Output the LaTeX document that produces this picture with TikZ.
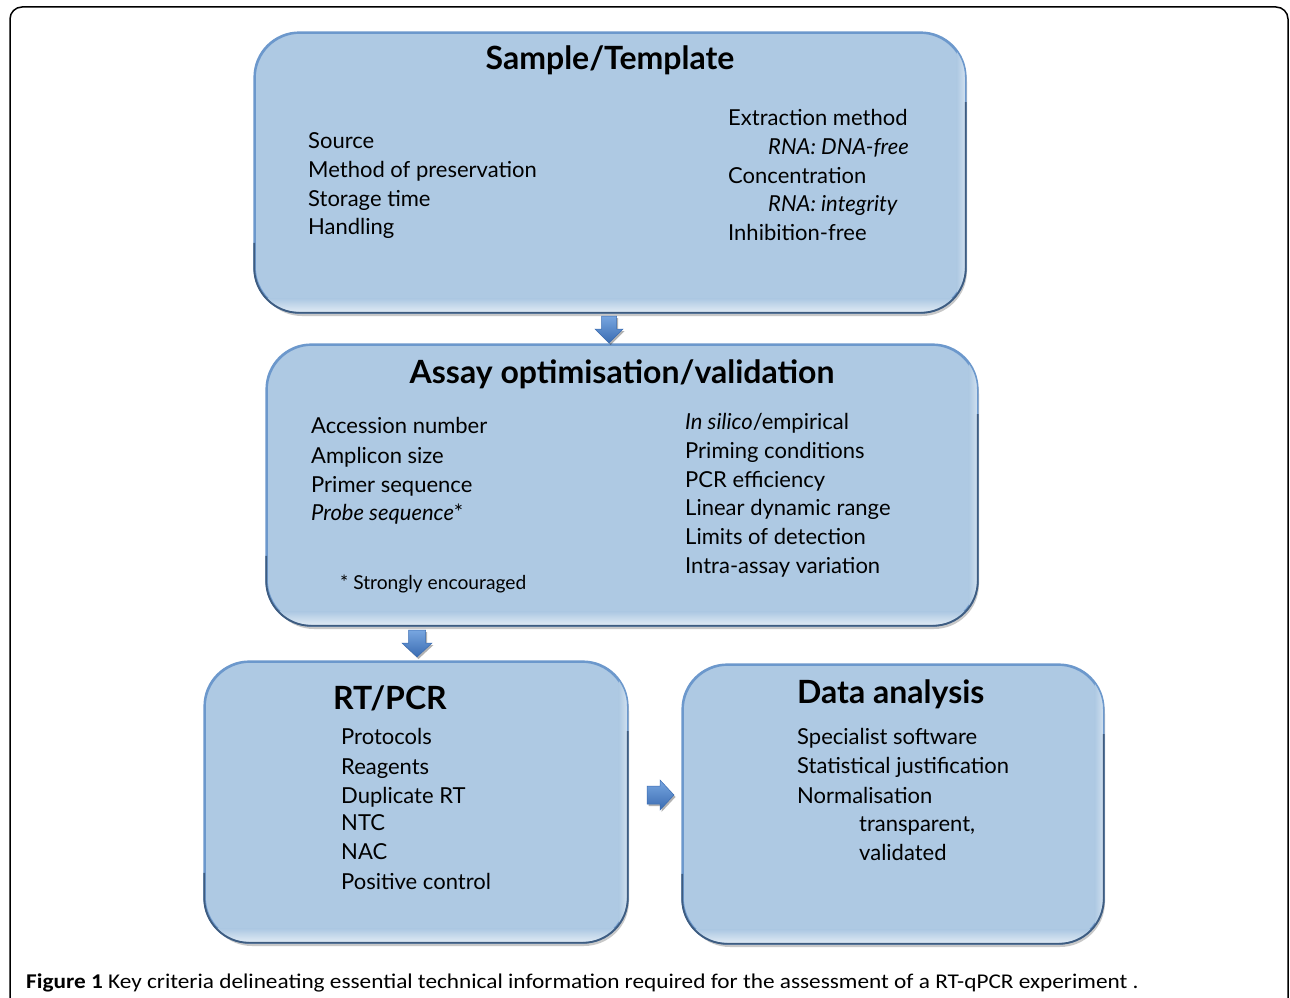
\documentclass[tikz,border=0pt]{standalone}
\usepackage{fontspec}
\setmainfont{Lato}
\newfontfamily\capfont{Carlito}
\usetikzlibrary{shadows,calc}
\definecolor{boxblue}{RGB}{174,201,227}
\definecolor{boxedge}{RGB}{108,152,204}
\definecolor{boxdark}{RGB}{62,92,128}
\definecolor{arrowlight}{RGB}{120,166,224}
\definecolor{arrowdark}{RGB}{58,108,178}
\tikzset{
  box/.style={rectangle, rounded corners=45pt, fill=boxblue, draw=boxedge, line width=1.6pt,
    inner sep=0pt,
    drop shadow={shadow xshift=2pt, shadow yshift=-4pt, opacity=0.3, fill=black!70}},
  itm/.style={anchor=base west, inner sep=0pt, font=\fontsize{22}{26}\selectfont},
  ttl/.style={anchor=base, inner sep=0pt, font=\bfseries\fontsize{32}{36}\selectfont},
  blockarrow/.style={top color=arrowlight, bottom color=arrowdark, draw=arrowdark, line width=0.5pt,
    drop shadow={shadow xshift=1.5pt, shadow yshift=-2pt, opacity=0.3, fill=black}},
  frame/.style={draw=black, line width=1.5pt, rounded corners=12pt}
}
\newcommand{\bevel}[1]{%
  \begin{scope}
    \clip[rounded corners=45pt] (#1.south west) rectangle (#1.north east);
    \shade[top color=boxblue, bottom color=white!65!boxblue]
      ($(#1.south west)+(0,-14)$) rectangle ($(#1.south east)+(0,0)$);
    \shade[left color=boxblue, right color=white!45!boxblue]
      ($(#1.north east)+(-9,0)$) rectangle (#1.south east);
  \end{scope}
  \draw[boxedge, line width=1.6pt, rounded corners=45pt] (#1.south west) rectangle (#1.north east);
  \draw[boxdark, line width=1.8pt, rounded corners=45pt]
    ($(#1.north east)+(0,70)$) -- (#1.south east) -- (#1.south west) -- ($(#1.south west)+(0,-70)$);
}
\begin{document}
\begin{tikzpicture}[x=1pt,y=-1pt]
\useasboundingbox (0,0) rectangle (1290,998);
\fill[white] (0,0) rectangle (1290,998);
\draw[frame] (10,1010) -- (10,7) -- (1288,7) -- (1288,1010);

% boxes
\node[box, minimum width=710pt, minimum height=279pt] (b1) at (610,172.5) {};
\bevel{b1}
\node[box, minimum width=710pt, minimum height=280pt] (b2) at (622,485) {};
\bevel{b2}
\node[box, minimum width=422pt, minimum height=280pt] (b3) at (416,802) {};
\bevel{b3}
\node[box, minimum width=420pt, minimum height=278pt] (b4) at (893,804) {};
\bevel{b4}

% arrows
\coordinate (a1) at (609,316);
\shade[blockarrow] ($(a1)+(-7.5,0)$) -- ($(a1)+(7.5,0)$) -- ($(a1)+(7.5,13)$) -- ($(a1)+(14,13)$)
  -- ($(a1)+(0,27)$) -- ($(a1)+(-14,13)$) -- ($(a1)+(-7.5,13)$) -- cycle;
\coordinate (a2) at (417,630);
\shade[blockarrow] ($(a2)+(-8.5,0)$) -- ($(a2)+(8.5,0)$) -- ($(a2)+(8.5,13)$) -- ($(a2)+(15,13)$)
  -- ($(a2)+(0,27)$) -- ($(a2)+(-15,13)$) -- ($(a2)+(-8.5,13)$) -- cycle;
\coordinate (a3) at (647,795);
\shade[blockarrow] ($(a3)+(0,-9)$) -- ($(a3)+(13,-9)$) -- ($(a3)+(13,-15)$) -- ($(a3)+(27,0)$)
  -- ($(a3)+(13,15)$) -- ($(a3)+(13,9)$) -- ($(a3)+(0,9)$) -- cycle;

% box 1
\node[ttl] (t1) at (610,70) {Sample/Template};
\node[itm] (s1) at (308,148) {Source};
\node[itm] (s2) at (308,177) {Method of preservation};
\node[itm] (s3) at (308,206) {Storage time};
\node[itm] (s4) at (308,234) {Handling};
\node[itm] (r1) at (728,125) {Extraction method};
\node[itm] (r2) at (768,154) {\itshape RNA: DNA-free};
\node[itm] (r3) at (728,183) {Concentration};
\node[itm] (r4) at (768,211) {\itshape RNA: integrity};
\node[itm] (r5) at (728,240) {Inhibition-free};

% box 2
\node[ttl] (t2) at (622,383) {Assay optimisation/validation};
\node[itm] (p1) at (311,433) {Accession number};
\node[itm] (p2) at (311,463) {Amplicon size};
\node[itm] (p3) at (311,492) {Primer sequence};
\node[itm] (p4) at (311,520) {\itshape Probe sequence\upshape*};
\node[itm, font=\fontsize{19.2}{23}\selectfont] (p5) at (340,589) {* Strongly encouraged};
\node[itm] (q1) at (685,429) {\itshape In silico\upshape/empirical};
\node[itm] (q2) at (685,458) {Priming conditions};
\node[itm] (q3) at (685,487) {PCR efficiency};
\node[itm] (q4) at (685,515) {Linear dynamic range};
\node[itm] (q5) at (685,544) {Limits of detection};
\node[itm] (q6) at (685,573) {Intra-assay variation};

% box 3
\node[ttl, anchor=base west] (t3) at (333,709) {RT/PCR};
\node[itm] (u1) at (341,744) {Protocols};
\node[itm] (u2) at (341,774) {Reagents};
\node[itm] (u3) at (341,803) {Duplicate RT};
\node[itm] (u4) at (341,830) {NTC};
\node[itm] (u5) at (341,859) {NAC};
\node[itm] (u6) at (341,889) {Positive control};

% box 4
\node[ttl, anchor=base west] (t4) at (797,703) {Data analysis};
\node[itm] (v1) at (797,744) {Specialist software};
\node[itm] (v2) at (797,773) {Statistical justification};
\node[itm] (v3) at (797,803) {Normalisation};
\node[itm] (v4) at (859,831) {transparent,};
\node[itm] (v5) at (859,860) {validated};

% caption
\node[anchor=base west, inner sep=0pt, font=\capfont\fontsize{21}{25}\selectfont] (cap) at (26,988)
  {\scalebox{1.108}[1]{\textbf{Figure 1} Key criteria delineating essential technical information required for the assessment of a RT-qPCR experiment .}};
\end{tikzpicture}
\end{document}
